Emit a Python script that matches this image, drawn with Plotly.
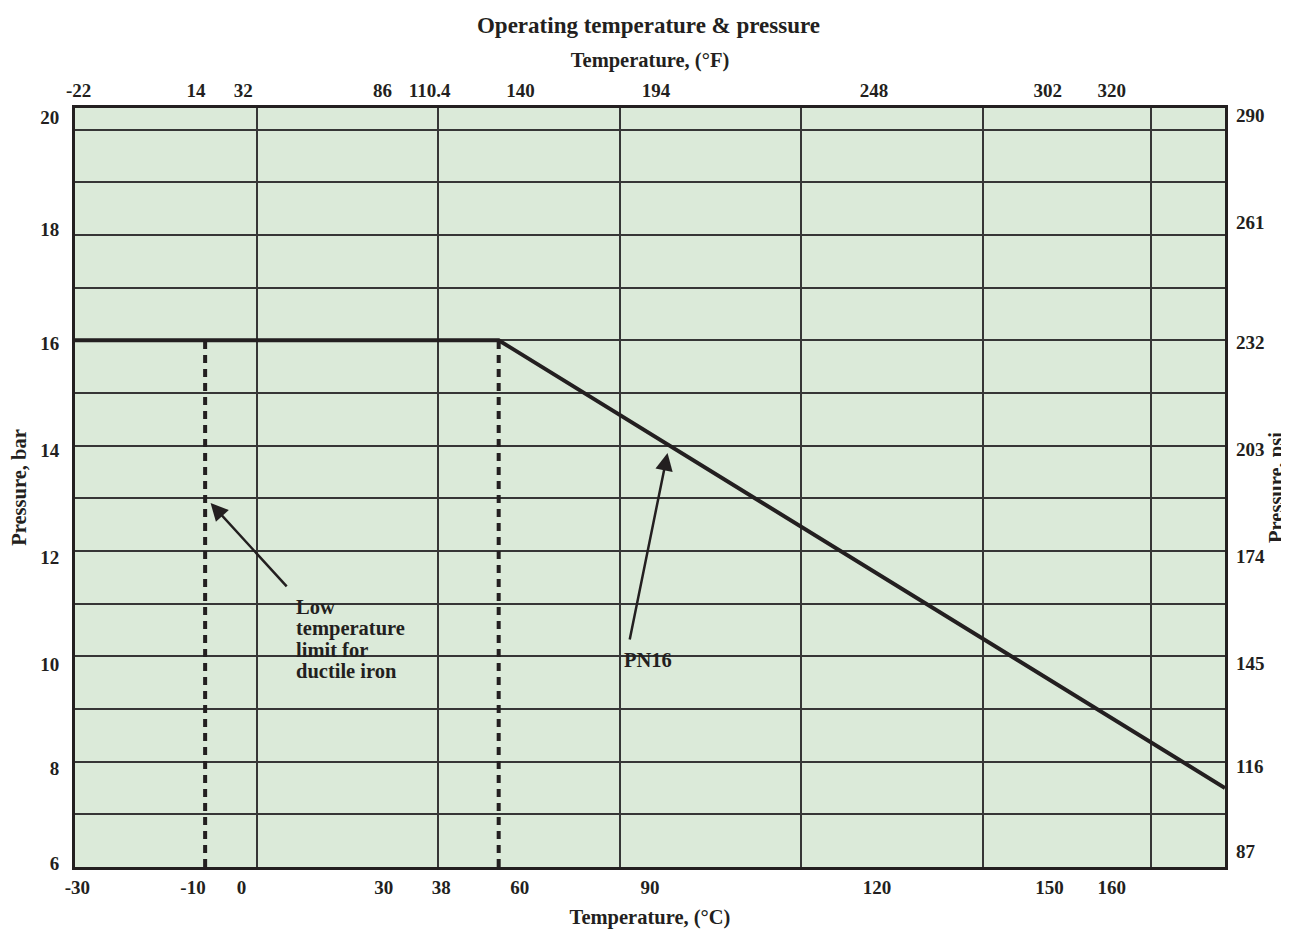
import plotly.graph_objects as go

# ---- data ----
temp_c = [-30, 40, 160]          # PN16 rating curve, °C
pressure_bar = [16, 16, 7.5]     # bar
low_limit_c = -8.5               # dashed limit line (as drawn)
break_c = 40                     # dashed line at start of derating
dash_top_bar = 16

c_labels = ["-30", "-10", "0", "30", "38", "60", "90", "120", "150", "160"]
f_labels = ["-22", "14", "32", "86", "110.4", "140", "194", "248", "302", "320"]
bar_labels = ["6", "8", "10", "12", "14", "16", "18", "20"]
psi_labels = ["87", "116", "145", "174", "203", "232", "261", "290"]
note_lines = ["Low", "temperature", "limit for", "ductile iron"]

# ---- layout (label placement as drawn in the reference) ----
c_label_pos = [-29.6, -10.5, -2.5, 21.0, 30.5, 43.5, 65.0, 102.5, 131.0, 141.3]
f_label_pos = [-29.4, -10.0, -2.2, 20.8, 28.6, 43.6, 66.0, 102.0, 130.7, 141.3]
bar_label_pos = [6.06, 7.88, 9.85, 11.88, 13.91, 15.94, 18.1, 20.23]
psi_label_pos = [6.30, 7.92, 9.87, 11.9, 13.93, 15.97, 18.24, 20.27]
x_grid = [0, 30, 60, 90, 120, 147.7]
XR = [-30, 160]
YR = [6, 20.41]

INK = "#231f20"
BG = "#dbead9"
GRID = "#363636"
FONT = "Liberation Serif"

# page body has an 8px margin, so the figure is 8px smaller than the window
W, H = 1281, 921

fig = go.Figure()

# dashed vertical lines
for xv in (low_limit_c, break_c):
    fig.add_trace(go.Scatter(x=[xv, xv], y=[YR[0], dash_top_bar],
                             mode="lines", line=dict(color=INK, width=4, dash="8px,6px"),
                             hoverinfo="skip", showlegend=False))
# PN16 line
fig.add_trace(go.Scatter(x=temp_c, y=pressure_bar, mode="lines",
                         line=dict(color=INK, width=4), name="PN16", showlegend=False))
# invisible trace to activate secondary axes
fig.add_trace(go.Scatter(x=XR, y=YR, xaxis="x2", yaxis="y2", mode="markers",
                         marker=dict(opacity=0), hoverinfo="skip", showlegend=False))

tickfont = dict(family=FONT, size=19, color=INK, weight="bold")
titlefont = dict(family=FONT, size=20.5, color=INK, weight="bold")

fig.update_layout(
    width=W, height=H,
    margin=dict(l=66.5, r=64, t=99.5, b=62, autoexpand=False),
    paper_bgcolor="white", plot_bgcolor=BG,
    title=dict(text="Operating temperature & pressure", x=0.5, xanchor="center",
               y=1 - 17 / H, yanchor="middle",
               font=dict(family=FONT, size=23, color=INK, weight="bold")),
    xaxis=dict(range=XR, tickmode="array", tickvals=c_label_pos, ticktext=c_labels,
               showgrid=False, zeroline=False, ticks="", ticklabelstandoff=1,
               automargin=False,
               showline=True, linecolor=INK, linewidth=3, mirror=True,
               minor=dict(tickmode="array", tickvals=x_grid, showgrid=True,
                          gridcolor=GRID, gridwidth=1.5, ticks=""),
               tickfont=tickfont,
               title=dict(text="Temperature, (°C)", font=titlefont, standoff=20)),
    xaxis2=dict(range=XR, overlaying="x", side="top", tickmode="array",
                tickvals=f_label_pos, ticktext=f_labels, showgrid=False,
                zeroline=False, ticks="", ticklabelstandoff=6, showline=False,
                automargin=False,
                tickfont=tickfont,
                title=dict(text="Temperature, (°F)", font=titlefont, standoff=7)),
    yaxis=dict(range=YR, tickmode="array", tickvals=bar_label_pos, ticktext=bar_labels,
               showgrid=False, zeroline=False, ticks="", ticklabelstandoff=9,
               automargin=False,
               showline=True, linecolor=INK, linewidth=3, mirror=True,
               minor=dict(tickmode="linear", tick0=6, dtick=1, showgrid=True,
                          gridcolor=GRID, gridwidth=1.5, ticks=""),
               tickfont=tickfont,
               title=dict(text="Pressure, bar", font=titlefont, standoff=11)),
    yaxis2=dict(range=YR, overlaying="y", side="right", tickmode="array",
                tickvals=psi_label_pos, ticktext=psi_labels, showgrid=False,
                zeroline=False, ticks="", ticklabelstandoff=10, showline=False,
                automargin=False,
                tickfont=tickfont,
                title=dict(text="Pressure, psi", font=titlefont, standoff=4)),
)

annfont = dict(family=FONT, size=20.5, color=INK, weight="bold")
# arrows
fig.add_annotation(x=-7.6, y=12.91, ax=5.2, ay=11.3, axref="x", ayref="y",
                   xref="x", yref="y", text="", showarrow=True,
                   arrowhead=2, arrowsize=1.4, arrowwidth=2.5, arrowcolor=INK)
fig.add_annotation(x=67.9, y=13.86, ax=61.6, ay=10.29, axref="x", ayref="y",
                   xref="x", yref="y", text="", showarrow=True,
                   arrowhead=2, arrowsize=1.4, arrowwidth=2.5, arrowcolor=INK)
# note text, one annotation per line for tight line spacing
y0, step = 10.93, 0.404
for i, line in enumerate(note_lines):
    fig.add_annotation(x=6.1, y=y0 - i * step, xref="x", yref="y",
                       xanchor="left", yanchor="middle", align="left",
                       showarrow=False, font=annfont, text=line)
fig.add_annotation(x=60.4, y=9.93, xref="x", yref="y", xanchor="left", yanchor="middle",
                   showarrow=False, font=annfont, text="PN16")

fig.write_html("out.html")
